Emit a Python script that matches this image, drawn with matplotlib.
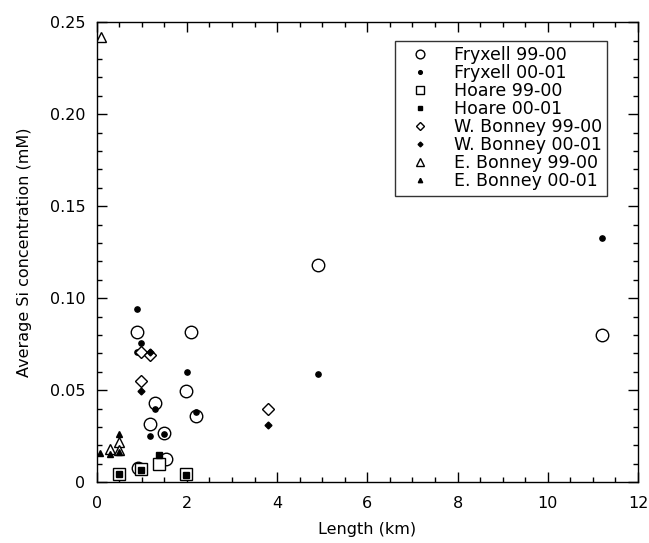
import numpy as np
import matplotlib.pyplot as plt
from matplotlib.ticker import MultipleLocator

plt.rcParams['font.family'] = ['DejaVu Sans']

# Datos (longitud en km, Si en mM)
fryxell_99_x = [0.90, 2.10, 1.30, 1.19, 1.50, 1.99, 2.20, 1.53, 0.92, 4.90, 11.2]
fryxell_99_y = [0.0817, 0.0817, 0.0431, 0.0315, 0.0268, 0.0496, 0.0359, 0.0125, 0.0078, 0.118, 0.080]

fryxell_00_x = [0.90, 0.99, 0.90, 2.00, 1.30, 1.19, 1.50, 2.20, 4.90, 11.2]
fryxell_00_y = [0.0939, 0.0759, 0.0708, 0.060, 0.040, 0.025, 0.026, 0.0379, 0.059, 0.133]

hoare_99_x = [0.49, 0.99, 1.38, 1.99]
hoare_99_y = [0.0042, 0.0074, 0.0100, 0.0042]

hoare_00_x = [0.49, 0.99, 1.38, 1.99]
hoare_00_y = [0.0045, 0.0066, 0.0147, 0.0040]

wbonney_99_x = [0.99, 0.99, 1.19, 3.79]
wbonney_99_y = [0.0551, 0.0708, 0.0690, 0.0397]

wbonney_00_x = [0.99, 1.19, 3.79]
wbonney_00_y = [0.0496, 0.0708, 0.0311]

ebonney_99_x = [0.10, 0.29, 0.50, 0.50]
ebonney_99_y = [0.242, 0.0183, 0.0219, 0.0177]

ebonney_00_x = [0.08, 0.29, 0.50, 0.50]
ebonney_00_y = [0.0161, 0.0155, 0.0260, 0.0165]

xticks = [0, 2, 4, 6, 8, 10, 12]
yticks = [0, 0.05, 0.10, 0.15, 0.20, 0.25]
yticklabels = ['0', '0.05', '0.10', '0.15', '0.20', '0.25']

fig = plt.figure(figsize=(6.49, 5.43), dpi=100)
ax = fig.add_axes([0.149, 0.112, 0.834, 0.847])

abierto = dict(mfc='white', mec='black', mew=1.0, ls='none')
lleno = dict(mfc='black', mec='black', ls='none')

ax.plot(fryxell_99_x, fryxell_99_y, 'o', ms=9, label='Fryxell 99-00', **abierto)
ax.plot(fryxell_00_x, fryxell_00_y, 'o', ms=3.8, label='Fryxell 00-01', **lleno)
ax.plot(hoare_99_x, hoare_99_y, 's', ms=8, label='Hoare 99-00', **abierto)
ax.plot(hoare_00_x, hoare_00_y, 's', ms=4.5, label='Hoare 00-01', **lleno)
ax.plot(wbonney_99_x, wbonney_99_y, 'D', ms=6.5, label='W. Bonney 99-00', **abierto)
ax.plot(wbonney_00_x, wbonney_00_y, 'D', ms=3.5, label='W. Bonney 00-01', **lleno)
ax.plot(ebonney_99_x, ebonney_99_y, '^', ms=7.5, label='E. Bonney 99-00', **abierto)
ax.plot(ebonney_00_x, ebonney_00_y, '^', ms=4.5, label='E. Bonney 00-01', **lleno)

ax.set_xlim(0, 12)
ax.set_ylim(0, 0.25)
ax.set_xticks(xticks)
ax.set_xticklabels([str(t) for t in xticks])
ax.xaxis.set_minor_locator(MultipleLocator(0.5))
ax.set_yticks(yticks)
ax.set_yticklabels(yticklabels)
ax.yaxis.set_minor_locator(MultipleLocator(0.01))
ax.tick_params(which='both', direction='in', top=True, right=True, labelsize=11.5)
ax.tick_params(which='major', length=7, width=1, pad=8)
ax.tick_params(axis='x', which='major', pad=10)
ax.tick_params(which='minor', length=3.5, width=1)
for s in ax.spines.values():
    s.set_linewidth(1)

ax.set_xlabel('Length (km)', fontsize=11.5, labelpad=8)
ax.set_ylabel('Average Si concentration (mM)', fontsize=11.5, labelpad=13)

leg = ax.legend(loc='upper right', bbox_to_anchor=(0.943, 0.959), borderaxespad=0,
                fontsize=12.5, frameon=True, fancybox=False, labelspacing=0.0,
                handletextpad=0.8, markerscale=0.7, borderpad=0.3, handlelength=2.3)
leg.get_frame().set_edgecolor('black')
leg.get_frame().set_linewidth(1)

plt.savefig('out.png', dpi=100)
